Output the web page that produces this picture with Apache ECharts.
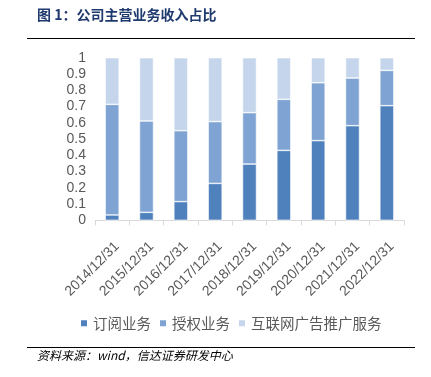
<!DOCTYPE html>
<html><head><meta charset="utf-8">
<script src="https://cdn.jsdelivr.net/npm/echarts@6/dist/echarts.min.js"></script>
<style>html,body{margin:0;padding:0;background:#fff}#c{width:431px;height:377px}</style>
</head><body><div id="c"></div>
<script>
const categories = ['2014/12/31','2015/12/31','2016/12/31','2017/12/31','2018/12/31','2019/12/31','2020/12/31','2021/12/31','2022/12/31'];
const subscription = [0.033, 0.049, 0.115, 0.227, 0.346, 0.430, 0.490, 0.582, 0.705];
const licensing = [0.680, 0.562, 0.436, 0.380, 0.316, 0.314, 0.356, 0.293, 0.217];
const advertising = [0.287, 0.389, 0.449, 0.393, 0.338, 0.256, 0.154, 0.125, 0.078];
const seriesNames = ['订阅业务','授权业务','互联网广告推广服务'];
const yTicks = ['0','0.1','0.2','0.3','0.4','0.5','0.6','0.7','0.8','0.9','1'];

const chart = echarts.init(document.getElementById('c'));
const font = '"Noto Sans CJK SC", "Liberation Sans", sans-serif';
function bar(name, data, color){
  return {name, type:'bar', stack:'a', data, barWidth:14,
    itemStyle:{color, borderColor:'#fff', borderWidth:0.6}};
}
chart.setOption({
  animation:false,
  textStyle:{fontFamily:font},
  grid:{left:95, right:27, top:57.7, bottom:156.7},
  legend:{top:311, left:74, itemWidth:8, itemHeight:8, itemGap:7, icon:'rect',
    textStyle:{fontSize:14.5, color:'#595959', fontFamily:font}, data:seriesNames},
  xAxis:{type:'category', data:categories,
    axisLine:{lineStyle:{color:'#D9D9D9'}},
    axisTick:{show:true, length:5, lineStyle:{color:'#D9D9D9'}},
    axisLabel:{rotate:45, fontSize:14, color:'#595959', margin:19, verticalAlign:'top', fontFamily:'"Liberation Sans", sans-serif'}},
  yAxis:{type:'value', min:0, max:1, interval:0.1,
    axisLine:{show:false}, axisTick:{show:false}, splitLine:{show:false},
    axisLabel:{fontSize:14, color:'#595959', margin:9, fontFamily:'"Liberation Sans", sans-serif',
      formatter:(v)=>yTicks[Math.round(v*10)]}},
  series:[
    bar(seriesNames[0], subscription, '#4F81BD'),
    bar(seriesNames[1], licensing, '#7FA4D3'),
    bar(seriesNames[2], advertising, '#C5D6EC')
  ],
  graphic:[
    {type:'text', left:37, top:8, style:{text:'图 1：公司主营业务收入占比', fontSize:14, fontWeight:'bold', fill:'#1F3A6E', fontFamily:font}},
    {type:'line', shape:{x1:27, y1:38.5, x2:415, y2:38.5}, style:{stroke:'#000', lineWidth:1}},
    {type:'line', shape:{x1:27, y1:347.5, x2:415, y2:347.5}, style:{stroke:'#000', lineWidth:1}},
    {type:'text', left:37, top:349, style:{text:'资料来源：wind，信达证券研发中心', fontSize:12, fontStyle:'italic', fill:'#000', fontFamily:font}}
  ]
});
</script></body></html>
